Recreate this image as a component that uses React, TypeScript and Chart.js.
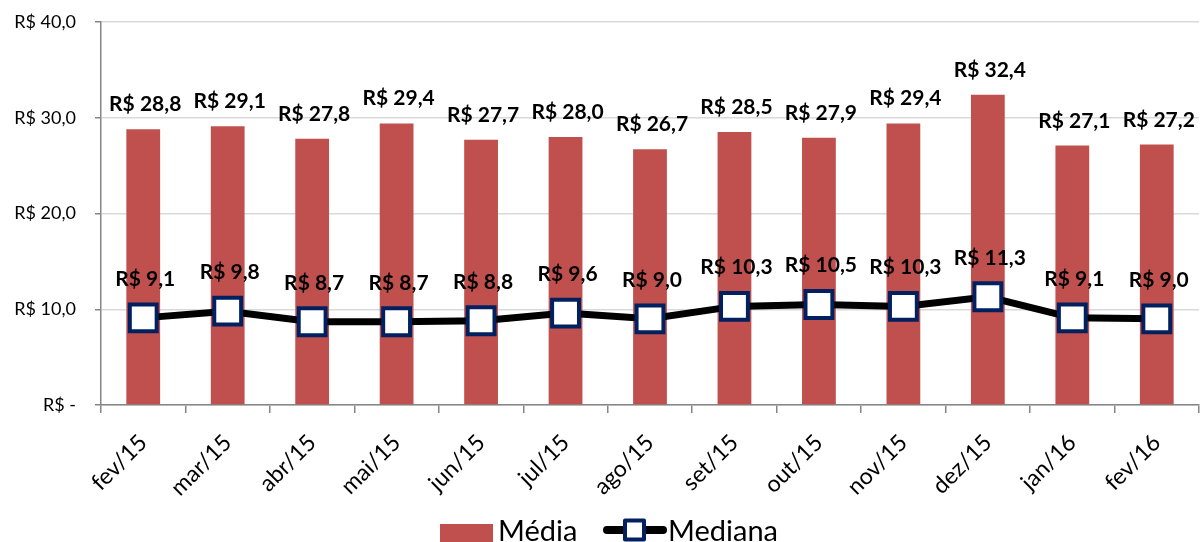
import React, { useEffect, useRef } from "react";
import { Chart, registerables } from "chart.js";

Chart.register(...registerables);

const categories = ["fev/15", "mar/15", "abr/15", "mai/15", "jun/15", "jul/15", "ago/15", "set/15", "out/15", "nov/15", "dez/15", "jan/16", "fev/16"];
const mediaValues = [28.8, 29.1, 27.8, 29.4, 27.7, 28.0, 26.7, 28.5, 27.9, 29.4, 32.4, 27.1, 27.2];
const medianaValues = [9.1, 9.8, 8.7, 8.7, 8.8, 9.6, 9.0, 10.3, 10.5, 10.3, 11.3, 9.1, 9.0];
const yMin = 0;
const yMax = 40;
const yStep = 10;
const seriesNames = ["Média", "Mediana"];

const FONT = "Lato, 'Open Sans', sans-serif";
const BAR_COLOR = "#C0504D";
const NAVY = "#002060";

const fmt = (v: number) => "R$ " + v.toFixed(1).replace(".", ",");

export default function App() {
  const ref = useRef<HTMLCanvasElement>(null);

  useEffect(() => {
    document.body.style.margin = "0";
    if (!ref.current) return;

    const labelsPlugin = {
      id: "valueLabels",
      afterDatasetsDraw(chart: any) {
        const ctx = chart.ctx;
        ctx.save();
        ctx.font = `bold 21px ${FONT}`;
        ctx.fillStyle = "#000";
        ctx.textAlign = "center";
        ctx.textBaseline = "alphabetic";
        chart.getDatasetMeta(1).data.forEach((el: any, i: number) => {
          ctx.fillText(fmt(mediaValues[i]), el.x + 2, el.y - 18);
        });
        chart.getDatasetMeta(0).data.forEach((el: any, i: number) => {
          ctx.fillText(fmt(medianaValues[i]), el.x + 2, el.y - 32);
        });
        ctx.restore();
      },
    };

    const legendPlugin = {
      id: "customLegend",
      afterDraw(chart: any) {
        const ctx = chart.ctx;
        ctx.save();
        ctx.font = `29px ${FONT}`;
        ctx.textBaseline = "alphabetic";
        ctx.textAlign = "left";
        const baseY = 541;
        ctx.fillStyle = BAR_COLOR;
        ctx.fillRect(440, 524, 53, 18);
        ctx.fillStyle = "#000";
        ctx.fillText(seriesNames[0], 498, baseY);
        // line symbol
        ctx.strokeStyle = "#000";
        ctx.lineWidth = 8;
        ctx.lineCap = "round";
        ctx.beginPath();
        ctx.moveTo(607, 530);
        ctx.lineTo(663, 530);
        ctx.stroke();
        const cx = 634.5;
        ctx.fillStyle = "#fff";
        ctx.strokeStyle = NAVY;
        ctx.lineWidth = 4;
        ctx.lineJoin = "round";
        ctx.beginPath();
        ctx.rect(cx - 9.5, 530 - 9.5, 19, 19);
        ctx.fill();
        ctx.stroke();
        ctx.fillStyle = "#000";
        ctx.fillText(seriesNames[1], 668, baseY);
        ctx.restore();
      },
    };

    const chart = new Chart(ref.current, {
      type: "bar",
      data: {
        labels: categories,
        datasets: [
          {
            type: "line",
            label: seriesNames[1],
            data: medianaValues,
            order: 0,
            borderColor: "#000",
            borderWidth: 7,
            tension: 0,
            pointStyle: "rect",
            pointRadius: 19,
            pointBorderWidth: 4,
            pointBackgroundColor: "#fff",
            pointBorderColor: NAVY,
            clip: false,
          } as any,
          {
            type: "bar",
            label: seriesNames[0],
            data: mediaValues,
            order: 1,
            backgroundColor: BAR_COLOR,
            barPercentage: 0.4,
            categoryPercentage: 1,
          },
        ],
      },
      options: {
        responsive: false,
        animation: false,
        devicePixelRatio: 1,
        layout: { autoPadding: false, padding: { top: 22, right: 1, left: 0, bottom: 0 } },
        plugins: {
          legend: { display: false },
          tooltip: { enabled: false },
        },
        scales: {
          x: {
            offset: true,
            grid: {
              offset: true,
              drawOnChartArea: false,
              tickLength: 8,
              tickColor: "#868686",
              lineWidth: 1.5,
            },
            border: { color: "#868686", width: 1.5 },
            ticks: {
              autoSkip: false,
              minRotation: 45,
              maxRotation: 45,
              color: "#000",
              font: { family: FONT, size: 23 },
              padding: 16,
            },
            afterFit(scale: any) {
              scale.height = 137;
              scale.paddingLeft = 0;
              scale.paddingRight = 0;
            },
          },
          y: {
            min: yMin,
            max: yMax,
            ticks: {
              stepSize: yStep,
              color: "#000",
              font: { family: FONT, size: 18 },
              padding: 19,
              callback: (v: any) => (Number(v) === 0 ? "R$ -" : fmt(Number(v))),
            },
            grid: {
              color: "#d9d9d9",
              lineWidth: 1.5,
              tickLength: 6,
              tickColor: "#868686",
            },
            border: { color: "#868686", width: 1.5 },
            afterFit(scale: any) {
              scale.width = 101;
              scale.paddingTop = 0;
              scale.paddingBottom = 0;
            },
          },
        },
      },
      plugins: [labelsPlugin, legendPlugin],
    });

    return () => chart.destroy();
  }, []);

  return (
    <div style={{ width: 1200, height: 542 }}>
      <canvas ref={ref} width={1200} height={542} style={{ display: "block" }} />
    </div>
  );
}
